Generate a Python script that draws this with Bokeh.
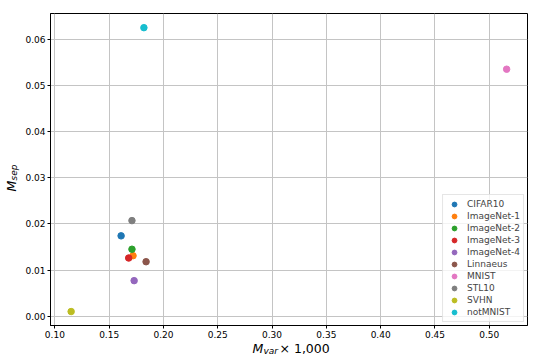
from bokeh.plotting import figure
from bokeh.layouts import column, row
from bokeh.models import Range1d, Label, Legend, LegendItem, FixedTicker, NumeralTickFormatter, ColumnDataSource
from bokeh.embed import file_html
from bokeh.resources import INLINE
import math

datasets = ["CIFAR10", "ImageNet-1", "ImageNet-2", "ImageNet-3", "ImageNet-4",
            "Linnaeus", "MNIST", "STL10", "SVHN", "notMNIST"]
m_var = [0.161, 0.172, 0.171, 0.168, 0.173, 0.184, 0.516, 0.171, 0.115, 0.182]
m_sep = [0.0174, 0.0131, 0.0145, 0.0126, 0.0077, 0.0118, 0.0535, 0.0207, 0.0010, 0.0625]
colors = ["#1f77b4", "#ff7f0e", "#2ca02c", "#d62728", "#9467bd",
          "#8c564b", "#e377c2", "#7f7f7f", "#bcbd22", "#17becf"]
x_ticks = [0.10, 0.15, 0.20, 0.25, 0.30, 0.35, 0.40, 0.45, 0.50]
y_ticks = [0.00, 0.01, 0.02, 0.03, 0.04, 0.05, 0.06]

FONT = "DejaVu Sans"

TOTAL_W = 545
YLAB_W = 22
P_W = TOTAL_W - YLAB_W
P_H = 341
XLAB_H = 17

p = figure(width=P_W, height=P_H, output_backend="svg", toolbar_location=None,
           x_range=Range1d(0.0960, 0.5352), y_range=Range1d(-0.00202, 0.06557),
           min_border_left=26, min_border_right=18, min_border_top=13, min_border_bottom=16)

p.outline_line_color = "black"
p.outline_line_width = 1

for ax, ticks in ((p.xaxis, x_ticks), (p.yaxis, y_ticks)):
    ax.ticker = FixedTicker(ticks=ticks)
    ax.formatter = NumeralTickFormatter(format="0.00")
    ax.major_label_text_font = FONT
    ax.major_label_text_font_size = "9px"
    ax.major_label_text_color = "black"
    ax.axis_line_color = "black"
    ax.major_tick_line_color = "black"
    ax.major_tick_out = 3
    ax.major_tick_in = 0
    ax.minor_tick_line_color = None
    ax.major_label_standoff = 2

p.xgrid.grid_line_color = "#c4c4c4"
p.ygrid.grid_line_color = "#c4c4c4"
p.xgrid.grid_line_width = 1
p.ygrid.grid_line_width = 1

items = []
for name, xv, yv, c in zip(datasets, m_var, m_sep, colors):
    src = ColumnDataSource(data=dict(x=[xv], y=[yv]))
    r = p.scatter("x", "y", source=src, size=6.5, fill_color=c, line_color=c)
    items.append(LegendItem(label=name, renderers=[r]))

legend = Legend(items=items, location="bottom_right")
legend.label_text_font = FONT
legend.label_text_font_size = "9px"
legend.glyph_height = 12
legend.glyph_width = 16
legend.label_height = 12
legend.spacing = 0
legend.padding = 3
legend.label_standoff = 5
legend.margin = 3
legend.border_line_color = "#cccccc"
legend.background_fill_alpha = 0.8
p.add_layout(legend)


def label_fig(w, h):
    f = figure(width=w, height=h, output_backend="svg", toolbar_location=None,
               title=None,
               x_axis_location=None, y_axis_location=None,
               min_border=0, min_border_left=0, min_border_right=0,
               min_border_top=0, min_border_bottom=0,
               x_range=Range1d(0, 1), y_range=Range1d(0, 1))
    f.outline_line_color = None
    f.grid.visible = False
    return f


def lab(f, text, x, y, size, italic=False, angle=0.0):
    f.add_layout(Label(x=x, y=y, x_units="screen", y_units="screen", text=text,
                       text_font=FONT, text_font_size=size,
                       text_font_style="italic" if italic else "normal",
                       text_align="left", text_baseline="alphabetic",
                       angle=angle, text_color="black"))


# y-axis label: M_sep
yf = label_fig(YLAB_W, P_H)
lab(yf, "M", 10.5, 134, "12.5px", italic=True, angle=math.pi / 2)
lab(yf, "sep", 13.5, 145, "9px", italic=True, angle=math.pi / 2)

# x-axis label: M_var x 1,000
xf = label_fig(TOTAL_W, XLAB_H)
lab(xf, "M", 252, 10, "12.5px", italic=True)
lab(xf, "var", 263, 7.5, "9px", italic=True)
lab(xf, "\u00d7 1,000", 279, 10, "12.5px")

layout = column(row(yf, p, spacing=0), xf, spacing=0)

open("out.html", "w").write(file_html(layout, INLINE))
